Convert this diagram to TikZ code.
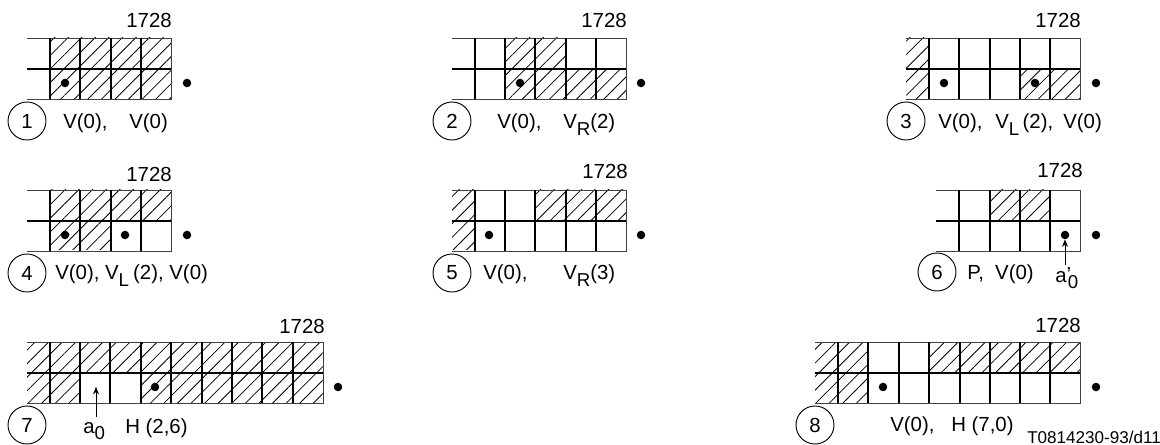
\documentclass[tikz,border=0pt]{standalone}
\usepackage{fontspec}
\setmainfont{Liberation Sans}
\usetikzlibrary{arrows.meta,patterns.meta}

% lowered index, nearly as large as the letter it follows
\newcommand{\lowtext}[1]{\raisebox{-5pt}{\fontsize{14}{16}\selectfont #1}}

\tikzset{
  thinline/.style={line width=0.7pt, black!75},
  gridline/.style={line width=1.3pt},
  hatched/.style={pattern={Lines[angle=45, distance=7.2pt, line width=0.6pt]}},
  lab/.style={anchor=base west, inner sep=0pt, font=\fontsize{15.3}{18}\selectfont},
  count/.style={anchor=base east, inner sep=0pt, font=\fontsize{15.3}{18}\selectfont},
  numcircle/.style={draw, circle, line width=0.7pt, inner sep=0pt, minimum size=28.5pt, font=\fontsize{15.3}{18}\selectfont},
  blob/.style={circle, fill=black, inner sep=0pt, minimum size=6.4pt},
  pointer/.style={-{Stealth[length=5.5pt, width=4.5pt]}, line width=0.5pt},
}

% #1 left end, #2 right end, #3 top level, #4 inner vertical lines
\newcommand{\cellgrid}[4]{
  \draw[thinline] (#1,#3) -- (#2,#3) -- (#2,#3+61) -- (#1,#3+61);
  \draw[gridline] (#1,#3+31) -- (#2,#3+31);
  \foreach \xv in {#4} \draw[gridline] (\xv,#3) -- (\xv,#3+61);
}

\begin{document}
\begin{tikzpicture}[x=0.75pt, y=-0.75pt]
  \useasboundingbox (0,0) rectangle (1160,445);

  %--- panel 1
  \foreach \xa/\xb/\ya/\yb in {50/171/38/99} \fill[hatched] (\xa,\ya) rectangle (\xb,\yb);
  \cellgrid{27}{171}{38}{50,80,111,141}
  \node[count] (topa) at (172,28) {1728};
  \node[blob] (dota) at (65,83) {};
  \node[blob] (enda) at (187,83) {};
  \node[numcircle] (numa) at (27,121) {1};
  \node[lab] (laba) at (63,129) {V(0),};
  \node[lab] (labb) at (129,129) {V(0)};

  %--- panel 2
  \foreach \xa/\xb/\ya/\yb in {505/566/38/69, 505/626/69/99} \fill[hatched] (\xa,\ya) rectangle (\xb,\yb);
  \cellgrid{452}{626}{38}{475,505,535,566,596}
  \node[count] (topb) at (627,28) {1728};
  \node[blob] (dotb) at (520,83) {};
  \node[blob] (endb) at (641,83) {};
  \node[numcircle] (numb) at (452,121) {2};
  \node[lab] (labc) at (497,129) {V(0),};
  \node[lab] (labd) at (563,129) {V\lowtext{R}(2)};

  %--- panel 3
  \foreach \xa/\xb/\ya/\yb in {906/929/38/99, 1020/1080/69/99} \fill[hatched] (\xa,\ya) rectangle (\xb,\yb);
  \cellgrid{906}{1080}{38}{929,959,990,1020,1050}
  \node[count] (topc) at (1081,28) {1728};
  \node[blob] (dotc) at (944,83) {};
  \node[blob] (dotd) at (1035,83) {};
  \node[blob] (endc) at (1096,83) {};
  \node[numcircle] (numc) at (906,121) {3};
  \node[lab] (labe) at (938,129) {V(0),};
  \node[lab] (labf) at (995,129) {V\lowtext{L}\,(2),};
  \node[lab] (labg) at (1063,129) {V(0)};

  %--- panel 4
  \foreach \xa/\xb/\ya/\yb in {50/171/190/220, 50/111/220/250} \fill[hatched] (\xa,\ya) rectangle (\xb,\yb);
  \cellgrid{27}{171}{190}{50,80,111,141}
  \node[count] (topd) at (172,182) {1728};
  \node[blob] (dote) at (65,235) {};
  \node[blob] (dotf) at (125,235) {};
  \node[blob] (endd) at (187,235) {};
  \node[numcircle] (numd) at (27,273) {4};
  \node[lab] (labh) at (55,280) {V(0), V\lowtext{L}\kern3pt(2), V(0)};

  %--- panel 5
  \foreach \xa/\xb/\ya/\yb in {452/475/190/250, 535/626/190/220} \fill[hatched] (\xa,\ya) rectangle (\xb,\yb);
  \cellgrid{452}{626}{190}{475,505,535,566,596}
  \node[count] (tope) at (628,179) {1728};
  \node[blob] (dotg) at (489,235) {};
  \node[blob] (ende) at (641,235) {};
  \node[numcircle] (nume) at (452,273) {5};
  \node[lab] (labi) at (483,280) {V(0),};
  \node[lab] (labj) at (563,280) {V\lowtext{R}(3)};

  %--- panel 6
  \foreach \xa/\xb/\ya/\yb in {990/1050/190/220} \fill[hatched] (\xa,\ya) rectangle (\xb,\yb);
  \cellgrid{936}{1080}{190}{959,990,1020,1050}
  \node[count] (topf) at (1083,178) {1728};
  \node[blob] (doth) at (1065,235) {};
  \node[blob] (endf) at (1096,235) {};
  \node[numcircle] (numf) at (937,272) {6};
  \node[lab] (labk) at (967,280) {P,\ \ V(0)};
  \node[lab] (labl) at (1055,282) {a\rlap{\raisebox{0.5pt}{'}}\kern1pt\lowtext{0}};
  \coordinate (tailf) at (1065,265);
  \draw[pointer] (tailf) -- (doth);

  %--- panel 7
  \foreach \xa/\xb/\ya/\yb in {27/323/342/372, 27/80/372/402, 141/323/372/402} \fill[hatched] (\xa,\ya) rectangle (\xb,\yb);
  \cellgrid{27}{323}{342}{50,80,110,141,171,202,232,262,293}
  \node[count] (topg) at (325,334) {1728};
  \node[blob] (doti) at (155,387) {};
  \node[blob] (endg) at (338,387) {};
  \node[numcircle] (numg) at (27,425) {7};
  \node[lab] (labm) at (83,433) {a\lowtext{0}};
  \node[lab] (labn) at (125,433) {H (2,6)};
  \coordinate (taili) at (96,417);
  \coordinate (headi) at (96,387);
  \draw[pointer] (taili) -- (headi);

  %--- panel 8
  \foreach \xa/\xb/\ya/\yb in {815/868/342/402, 929/1080/342/372} \fill[hatched] (\xa,\ya) rectangle (\xb,\yb);
  \cellgrid{815}{1080}{342}{838,868,899,929,960,990,1020,1050}
  \node[count] (toph) at (1081,332) {1728};
  \node[blob] (dotj) at (883,387) {};
  \node[blob] (endh) at (1096,387) {};
  \node[numcircle] (numh) at (815,425) {8};
  \node[lab] (labo) at (890,431) {V(0),};
  \node[lab] (labp) at (951,431) {H (7,0)};
  \node[lab, font=\fontsize{12.8}{15}\selectfont] (code) at (1027,443) {T0814230-93/d11};
\end{tikzpicture}
\end{document}
